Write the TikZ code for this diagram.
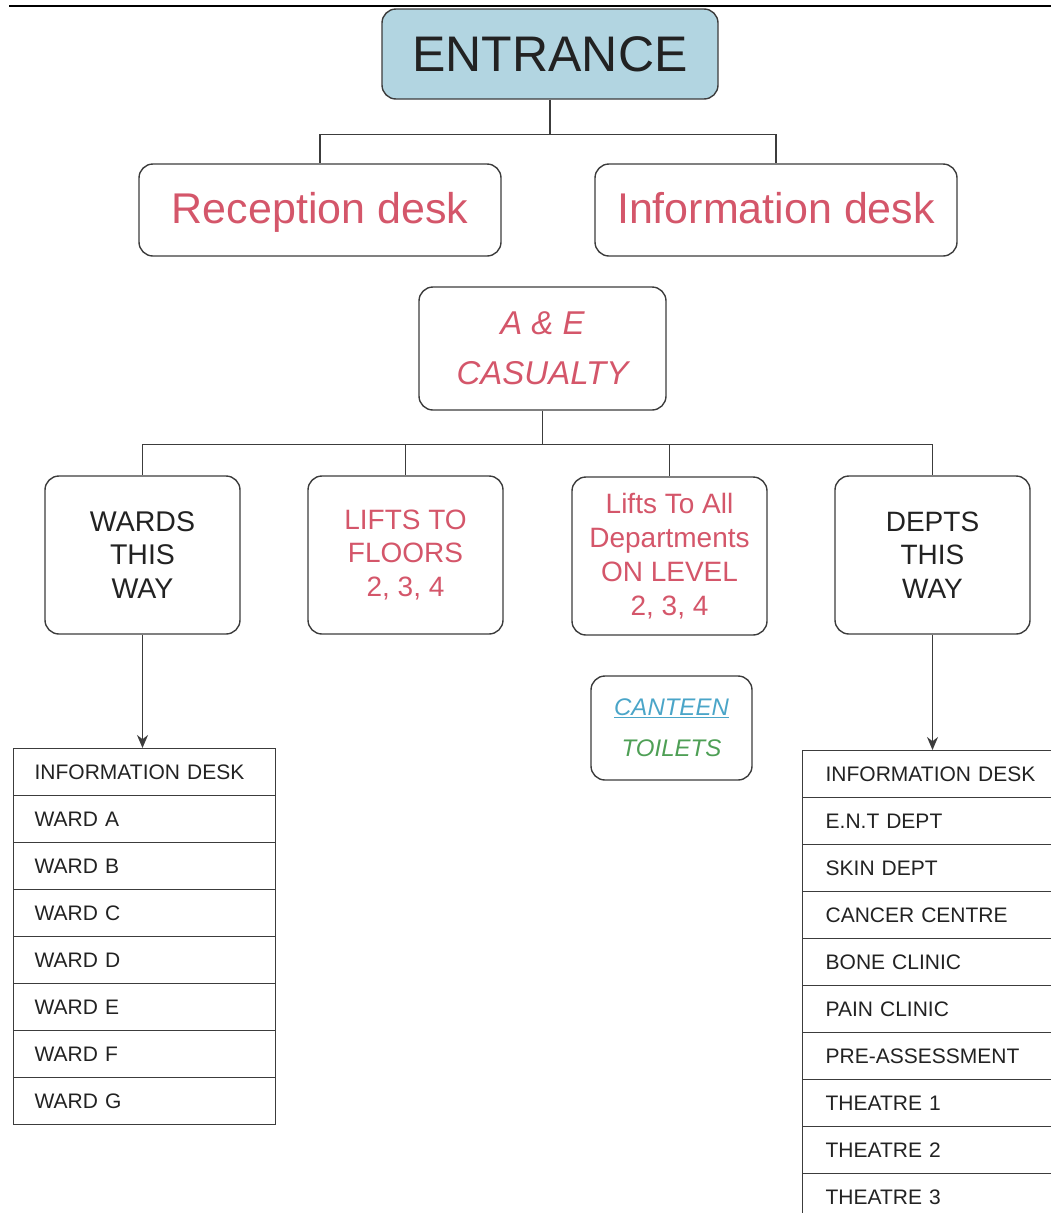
\documentclass[tikz,border=0pt]{standalone}
\usepackage{fontspec}
\setmainfont{Liberation Sans}
\usetikzlibrary{arrows.meta}
\definecolor{redtxt}{HTML}{D4566A}
\definecolor{bluetxt}{HTML}{4AA5C8}
\definecolor{greentxt}{HTML}{4E9F55}
\definecolor{entfill}{HTML}{B2D5E1}
\definecolor{edge}{HTML}{3C3C3C}
\definecolor{dtext}{HTML}{222222}
\tikzset{
  rbox/.style={draw=edge, line width=1.4pt, rounded corners=14pt, align=center, inner sep=0pt},
  cell/.style={draw=edge, line width=1.3pt, anchor=north west, minimum height=47pt,
     text width=220pt, inner xsep=21pt, inner ysep=0pt, align=left, text=dtext,
     font=\fontsize{21}{24}\selectfont},
  conn/.style={draw=edge, line width=1.3pt},
  arr/.style={-{Stealth[length=13pt,width=11pt]}},
}
\begin{document}
\begin{tikzpicture}[x=1pt,y=-1pt]
\useasboundingbox (0,0) rectangle (1051,1213);
\clip (0,0) rectangle (1051,1213);
% top rule
\coordinate (r1) at (9,6);
\coordinate (r2) at (1051,6);
\draw[line width=2pt] (r1) -- (r2);

\node[rbox, fill=entfill, minimum width=336pt, minimum height=90pt, text=dtext,
      font=\fontsize{50}{56}\selectfont] (ent) at (550,54) {ENTRANCE};
\node[rbox, minimum width=362pt, minimum height=92pt, text=redtxt, text height=33pt, text depth=7pt,
      font=\fontsize{43}{48}\selectfont] (rec) at (320,210) {Reception desk};
\node[rbox, minimum width=362pt, minimum height=92pt, text=redtxt, text height=33pt, text depth=7pt,
      font=\fontsize{43}{48}\selectfont] (inf) at (776,210) {Information desk};
\node[rbox, minimum width=247pt, minimum height=123pt, text=redtxt,
      font=\fontsize{33}{50}\selectfont\itshape] (ae) at (542.5,348.5) {A \& E\\CASUALTY};

\node[rbox, minimum width=195pt, minimum height=158pt, text=dtext,
      font=\fontsize{28.5}{33.5}\selectfont] (wards) at (142.5,555) {WARDS\\THIS\\WAY};
\node[rbox, minimum width=195pt, minimum height=158pt, text=redtxt,
      font=\fontsize{28}{33.5}\selectfont] (lifts) at (405.5,555) {LIFTS TO\\FLOORS\\2, 3, 4};
\node[rbox, minimum width=195pt, minimum height=158pt, text=redtxt,
      font=\fontsize{28}{33.8}\selectfont] (liftsall) at (669.5,556) {Lifts To All\\Departments\\ON LEVEL\\2, 3, 4};
\node[rbox, minimum width=195pt, minimum height=158pt, text=dtext,
      font=\fontsize{28}{33.5}\selectfont] (depts) at (932.5,555) {DEPTS\\THIS\\WAY};

\node[rbox, minimum width=161pt, minimum height=104pt,
      font=\fontsize{24}{41}\selectfont\itshape] (canteen) at (671.5,728)
      {\textcolor{bluetxt}{\underline{CANTEEN}}\\\textcolor{greentxt}{TOILETS}};

% connectors
\draw[conn] (ent.south) -- ++(0,35) -| (rec.north);
\draw[conn] (ent.south) ++(0,35) -| (inf.north);
\draw[conn] (ae.south) -- ++(0,34) -| (wards.north);
\draw[conn] (ae.south) ++(0,34) -| (lifts.north);
\draw[conn] (ae.south) ++(0,34) -| (liftsall.north);
\draw[conn] (ae.south) ++(0,34) -| (depts.north);

% left table
\foreach \t [count=\i from 0] in {INFORMATION DESK,WARD A,WARD B,WARD C,WARD D,WARD E,WARD F,WARD G}{
  \node[cell] (L\i) at (13,748+47*\i) {\t};
}
% right table
\foreach \t [count=\i from 0] in {INFORMATION DESK,E.N.T DEPT,SKIN DEPT,CANCER CENTRE,BONE CLINIC,PAIN CLINIC,PRE-ASSESSMENT,THEATRE 1,THEATRE 2,THEATRE 3}{
  \node[cell, text width=240pt, inner xsep=23pt] (R\i) at (802,750+47*\i) {\t};
}

\draw[conn, arr] (wards.south) -- (wards.south |- L0.north);
\draw[conn, arr] (depts.south) -- (depts.south |- R0.north);
\end{tikzpicture}
\end{document}
